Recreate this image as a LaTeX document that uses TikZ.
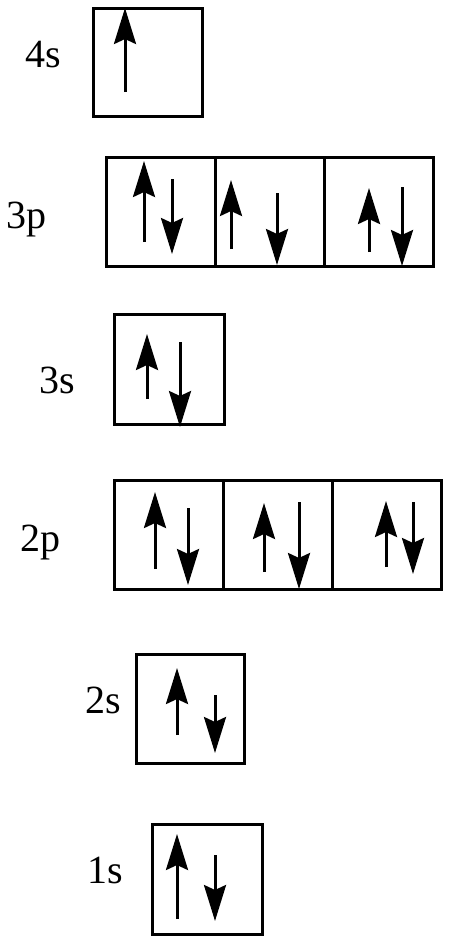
\documentclass[tikz,border=0pt]{standalone}
\usepackage{fontspec}
\setmainfont{Liberation Serif}
\newfontfamily\lserif{Liberation Serif}
\usetikzlibrary{arrows.meta}
\begin{document}
\begin{tikzpicture}[x=1bp,y=-1bp,
  box/.style={draw, line width=3bp, inner sep=0pt, outer sep=0pt, minimum height=109bp},
  lbl/.style={anchor=base west, inner sep=0pt, font=\lserif\fontsize{40bp}{44bp}\selectfont},
  spin/.style={line width=3bp, -{Stealth[length=36bp, width=22bp, inset=5bp]}}]
\useasboundingbox (0,0) rectangle (450,943);
% 4s
\node[lbl] (l4s) at (25,67) {4s};
\node[box, minimum width=109bp, minimum height=108bp] (b4s) at (147.5,62) {};
\draw[spin] (125,92) -- (125,8);
% 3p
\node[lbl] (l3p) at (6,228) {3p};
\node[box, minimum width=109.3bp] (b3p1) at (160.7,211.5) {};
\node[box, minimum width=109.3bp, anchor=west] (b3p2) at (b3p1.east) {};
\node[box, minimum width=109.3bp, anchor=west] (b3p3) at (b3p2.east) {};
\draw[spin] (144,242) -- (144,161);
\draw[spin] (172,179) -- (172,254);
\draw[spin] (231,249) -- (231,180);
\draw[spin] (277,193) -- (277,265);
\draw[spin] (369,252) -- (369,188);
\draw[spin] (402,187) -- (402,266);
% 3s
\node[lbl] (l3s) at (39,393) {3s};
\node[box, minimum width=110bp, minimum height=110bp] (b3s) at (169,369) {};
\draw[spin] (147,399) -- (147,334);
\draw[spin] (180,342) -- (180,427);
% 2p
\node[lbl] (l2p) at (20,551) {2p};
\node[box, minimum width=109.3bp] (b2p1) at (168.7,534.5) {};
\node[box, minimum width=109.3bp, anchor=west] (b2p2) at (b2p1.east) {};
\node[box, minimum width=109.3bp, anchor=west] (b2p3) at (b2p2.east) {};
\draw[spin] (155,569) -- (155,492);
\draw[spin] (188,508) -- (188,585);
\draw[spin] (264,572) -- (264,503);
\draw[spin] (299,502) -- (299,589);
\draw[spin] (386,567) -- (386,501);
\draw[spin] (413,502) -- (413,574);
% 2s
\node[lbl] (l2s) at (85,713) {2s};
\node[box, minimum width=108bp] (b2s) at (190,708.5) {};
\draw[spin] (177,735) -- (177,668);
\draw[spin] (215,695) -- (215,753);
% 1s
\node[lbl] (l1s) at (87,883) {1s};
\node[box, minimum width=110bp, minimum height=110bp] (b1s) at (207,879) {};
\draw[spin] (177,919) -- (177,834);
\draw[spin] (215,855) -- (215,921);
\end{tikzpicture}
\end{document}
